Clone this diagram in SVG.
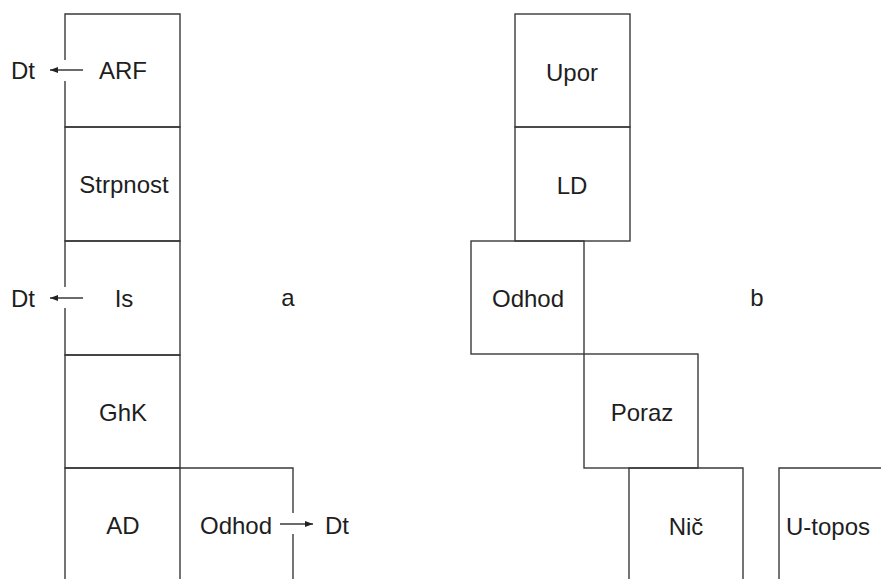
<svg xmlns="http://www.w3.org/2000/svg" width="881" height="579" viewBox="0 0 881 579">
<style>
.b{fill:none;stroke:#3a3a3a;stroke-width:1.4}
.t{font-family:"Liberation Sans",Arial,sans-serif;font-size:24px;fill:#1e1e1e;text-anchor:middle;dominant-baseline:central}
.c{stroke:#3a3a3a;stroke-width:1.4;fill:none}
</style>
<defs>
<marker id="ah" viewBox="0 0 8 6" refX="8" refY="3" markerWidth="8" markerHeight="6" markerUnits="userSpaceOnUse" orient="auto">
<path d="M0,0 L8,3 L0,6 Z" fill="#222"/>
</marker>
</defs>
<rect width="881" height="579" fill="#fff"/>
<g id="fig-a">
<g id="ARF"><path class="b" d="M65,60 V14 H180 V127 H65 V81"/><text class="t" x="123" y="70">ARF</text></g>
<g id="Strpnost"><path class="b" d="M65,127 H180 V241 H65 Z"/><text class="t" x="124" y="184">Strpnost</text></g>
<g id="Is"><path class="b" d="M65,287 V241 H180 V355 H65 V308"/><text class="t" x="124" y="298">Is</text></g>
<g id="GhK"><path class="b" d="M65,355 H180 V468 H65 Z"/><text class="t" x="123" y="412">GhK</text></g>
<g id="AD"><path class="b" d="M65,579 V468 H180 V579"/><text class="t" x="123" y="525">AD</text></g>
<g id="Odhod-a"><path class="b" d="M180,468 H293 V513 M293,534 V579"/><text class="t" x="236" y="525">Odhod</text></g>
<g id="Dt1"><text class="t" x="23" y="70">Dt</text></g>
<g id="Dt2"><text class="t" x="23" y="298">Dt</text></g>
<g id="Dt3"><text class="t" x="337" y="525">Dt</text></g>
<g id="label-a"><text class="t" x="288" y="297">a</text></g>
</g>
<g id="fig-b">
<g id="Upor"><rect class="b" x="515" y="14" width="115" height="113"/><text class="t" x="572" y="72">Upor</text></g>
<g id="LD"><rect class="b" x="515" y="127" width="115" height="114"/><text class="t" x="572" y="185">LD</text></g>
<g id="Odhod-b"><rect class="b" x="471" y="241" width="113" height="113"/><text class="t" x="528" y="298">Odhod</text></g>
<g id="Poraz"><rect class="b" x="584" y="354" width="114" height="114"/><text class="t" x="642" y="412">Poraz</text></g>
<g id="Nic"><path class="b" d="M629,579 V468 H743 V579"/><text class="t" x="686" y="526">Nič</text></g>
<g id="U-topos"><path class="b" d="M779,579 V468 H890"/><text class="t" x="828" y="526">U-topos</text></g>
<g id="label-b"><text class="t" x="757" y="297">b</text></g>
</g>
<g id="connectors">
<line class="c" x1="83" y1="70" x2="50" y2="70" marker-end="url(#ah)"/>
<line class="c" x1="83" y1="298" x2="50" y2="298" marker-end="url(#ah)"/>
<line class="c" x1="280" y1="524" x2="313" y2="524" marker-end="url(#ah)"/>
</g>
</svg>
